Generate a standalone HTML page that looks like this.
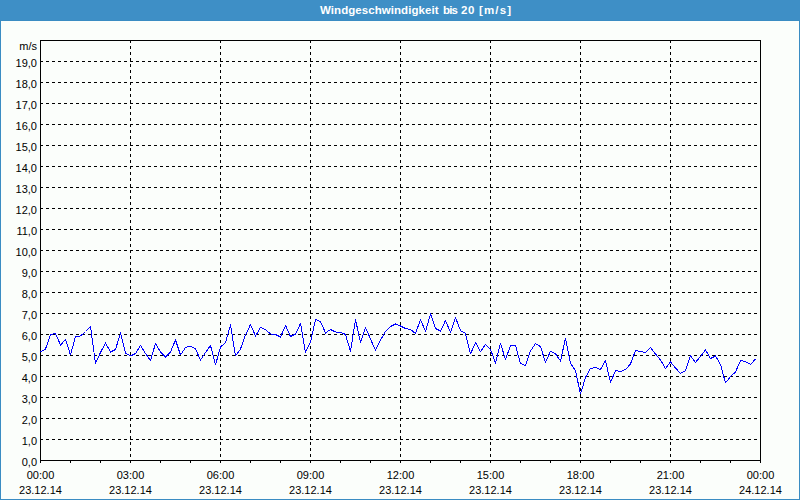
<!DOCTYPE html>
<html><head><meta charset="utf-8"><style>
html,body{margin:0;padding:0;width:800px;height:500px;overflow:hidden;background:#fbfefb;}
svg{display:block;}
text{font-family:"Liberation Sans",sans-serif;font-size:11px;fill:#000;}
.t{font-weight:bold;fill:#fff;font-size:11.5px;}
</style></head><body>
<svg width="800" height="500" viewBox="0 0 800 500">
<rect x="0" y="0" width="800" height="500" fill="#fbfefb"/>
<rect x="0" y="0" width="800" height="21" fill="#3e8fc6"/>
<g shape-rendering="crispEdges" stroke="#3a8cc3" stroke-width="1" fill="none">
<line x1="0" y1="20.5" x2="800" y2="20.5"/>
<line x1="0.5" y1="20" x2="0.5" y2="500"/>
<line x1="799.5" y1="20" x2="799.5" y2="500"/>
<line x1="0" y1="499.5" x2="800" y2="499.5"/>
</g>
<text class="t" x="320" y="14" textLength="118.5" lengthAdjust="spacing">Windgeschwindigkeit</text><text class="t" x="443" y="14" textLength="15" lengthAdjust="spacing">bis</text><text class="t" x="461" y="14" textLength="13.5" lengthAdjust="spacing">20</text><text class="t" x="479" y="14" textLength="32" lengthAdjust="spacing">[m/s]</text>
<g shape-rendering="crispEdges" stroke="#000" stroke-width="1" fill="none">

<line x1="40" y1="439.5" x2="760" y2="439.5" stroke-dasharray="3 3"/>
<line x1="40" y1="418.5" x2="760" y2="418.5" stroke-dasharray="3 3"/>
<line x1="40" y1="397.5" x2="760" y2="397.5" stroke-dasharray="3 3"/>
<line x1="40" y1="376.5" x2="760" y2="376.5" stroke-dasharray="3 3"/>
<line x1="40" y1="355.5" x2="760" y2="355.5" stroke-dasharray="3 3"/>
<line x1="40" y1="334.5" x2="760" y2="334.5" stroke-dasharray="3 3"/>
<line x1="40" y1="313.5" x2="760" y2="313.5" stroke-dasharray="3 3"/>
<line x1="40" y1="292.5" x2="760" y2="292.5" stroke-dasharray="3 3"/>
<line x1="40" y1="271.5" x2="760" y2="271.5" stroke-dasharray="3 3"/>
<line x1="40" y1="250.5" x2="760" y2="250.5" stroke-dasharray="3 3"/>
<line x1="40" y1="229.5" x2="760" y2="229.5" stroke-dasharray="3 3"/>
<line x1="40" y1="208.5" x2="760" y2="208.5" stroke-dasharray="3 3"/>
<line x1="40" y1="187.5" x2="760" y2="187.5" stroke-dasharray="3 3"/>
<line x1="40" y1="166.5" x2="760" y2="166.5" stroke-dasharray="3 3"/>
<line x1="40" y1="145.5" x2="760" y2="145.5" stroke-dasharray="3 3"/>
<line x1="40" y1="124.5" x2="760" y2="124.5" stroke-dasharray="3 3"/>
<line x1="40" y1="103.5" x2="760" y2="103.5" stroke-dasharray="3 3"/>
<line x1="40" y1="82.5" x2="760" y2="82.5" stroke-dasharray="3 3"/>
<line x1="40" y1="61.5" x2="760" y2="61.5" stroke-dasharray="3 3"/>
<line x1="130.5" y1="40" x2="130.5" y2="460" stroke-dasharray="3 3"/>
<line x1="220.5" y1="40" x2="220.5" y2="460" stroke-dasharray="3 3"/>
<line x1="310.5" y1="40" x2="310.5" y2="460" stroke-dasharray="3 3"/>
<line x1="400.5" y1="40" x2="400.5" y2="460" stroke-dasharray="3 3"/>
<line x1="490.5" y1="40" x2="490.5" y2="460" stroke-dasharray="3 3"/>
<line x1="580.5" y1="40" x2="580.5" y2="460" stroke-dasharray="3 3"/>
<line x1="670.5" y1="40" x2="670.5" y2="460" stroke-dasharray="3 3"/>
<rect x="40.5" y="40.5" width="720" height="420"/>
<line x1="40.5" y1="460" x2="40.5" y2="463"/>
<line x1="70.5" y1="460" x2="70.5" y2="463"/>
<line x1="100.5" y1="460" x2="100.5" y2="463"/>
<line x1="130.5" y1="460" x2="130.5" y2="463"/>
<line x1="160.5" y1="460" x2="160.5" y2="463"/>
<line x1="190.5" y1="460" x2="190.5" y2="463"/>
<line x1="220.5" y1="460" x2="220.5" y2="463"/>
<line x1="250.5" y1="460" x2="250.5" y2="463"/>
<line x1="280.5" y1="460" x2="280.5" y2="463"/>
<line x1="310.5" y1="460" x2="310.5" y2="463"/>
<line x1="340.5" y1="460" x2="340.5" y2="463"/>
<line x1="370.5" y1="460" x2="370.5" y2="463"/>
<line x1="400.5" y1="460" x2="400.5" y2="463"/>
<line x1="430.5" y1="460" x2="430.5" y2="463"/>
<line x1="460.5" y1="460" x2="460.5" y2="463"/>
<line x1="490.5" y1="460" x2="490.5" y2="463"/>
<line x1="520.5" y1="460" x2="520.5" y2="463"/>
<line x1="550.5" y1="460" x2="550.5" y2="463"/>
<line x1="580.5" y1="460" x2="580.5" y2="463"/>
<line x1="610.5" y1="460" x2="610.5" y2="463"/>
<line x1="640.5" y1="460" x2="640.5" y2="463"/>
<line x1="670.5" y1="460" x2="670.5" y2="463"/>
<line x1="700.5" y1="460" x2="700.5" y2="463"/>
<line x1="730.5" y1="460" x2="730.5" y2="463"/>
<line x1="760.5" y1="460" x2="760.5" y2="463"/>
</g>
<polyline points="40.5,352 45.5,349.0 50.5,334.5 55.5,333.5 60.5,345.0 65.5,339.5 70.5,355.0 75.5,336.5 80.5,336.0 85.5,331.5 90.5,326.5 95.5,363.5 100.5,352.5 105.5,343 110.5,352.0 115.5,349.5 120.5,333 125.5,353.0 130.5,356 135.5,353.5 140.5,345.5 145.5,353.5 150.5,360.5 155.5,343.5 160.5,352.0 165.5,357.0 170.5,352.0 175.5,340 180.5,355.0 185.5,347.5 190.5,346.2 195.5,349.0 200.5,360.0 205.5,352.5 210.5,345.5 215.5,365 220.5,347.0 225.5,342.5 230.5,325.0 235.5,356 240.5,349.0 245.5,335.0 250.5,324.5 255.5,336.0 260.5,327.5 265.5,329.5 270.5,334.0 275.5,334.5 280.5,337.0 285.5,325.5 290.5,336.5 295.5,334.0 300.5,323.5 305.5,352.5 310.5,342.0 315.5,319.5 320.5,321.5 325.5,333.0 330.5,329.5 335.5,332.0 340.5,332.2 345.5,334.5 350.5,351.5 355.5,319.5 360.5,342.5 365.5,327.5 370.5,339.0 375.5,350.5 380.5,340.0 385.5,331.5 390.5,326.5 395.5,324.0 400.5,326.0 405.5,328.5 410.5,329.5 415.5,333.5 420.5,319.5 425.5,331.5 430.5,314.0 435.5,328.5 440.5,331.0 445.5,320.5 450.5,332.5 455.5,317.5 460.5,330.5 465.5,333.5 470.5,354 475.5,342.5 480.5,351.5 485.5,344.5 490.5,349.5 495.5,363.0 500.5,343.5 505.5,359.5 510.5,345.5 515.5,345.5 520.5,363.5 525.5,365.5 530.5,351.0 535.5,343.5 540.5,346.7 545.5,362.3 550.5,351.2 555.5,353.8 560.5,361.0 565.5,338.2 570.5,363.0 575.5,371.0 580.5,394 585.5,377.5 590.5,368.5 595.5,367.5 600.5,369.5 605.5,360.5 610.5,382.5 615.5,370.5 620.5,371.5 625.5,369.5 630.5,364.0 635.5,350.5 640.5,351.5 645.5,352.5 650.5,347.5 655.5,354.0 660.5,360.0 665.5,368.5 670.5,362.0 675.5,368.0 680.5,373.5 685.5,370.5 690.5,356.0 695.5,362.5 700.5,356.5 705.5,350.0 710.5,358.5 715.5,356.0 720.5,364.5 725.5,383 730.5,376.5 735.5,372.0 740.5,360.5 745.5,361.5 750.5,364.5 755.5,359.0" fill="none" stroke="#0000ff" stroke-width="1" stroke-linejoin="round" shape-rendering="crispEdges"/>
<text x="37" y="50" text-anchor="end">m/s</text>
<text x="37" y="466" text-anchor="end">0,0</text>
<text x="37" y="445" text-anchor="end">1,0</text>
<text x="37" y="424" text-anchor="end">2,0</text>
<text x="37" y="403" text-anchor="end">3,0</text>
<text x="37" y="382" text-anchor="end">4,0</text>
<text x="37" y="361" text-anchor="end">5,0</text>
<text x="37" y="340" text-anchor="end">6,0</text>
<text x="37" y="319" text-anchor="end">7,0</text>
<text x="37" y="298" text-anchor="end">8,0</text>
<text x="37" y="277" text-anchor="end">9,0</text>
<text x="37" y="256" text-anchor="end">10,0</text>
<text x="37" y="235" text-anchor="end">11,0</text>
<text x="37" y="214" text-anchor="end">12,0</text>
<text x="37" y="193" text-anchor="end">13,0</text>
<text x="37" y="172" text-anchor="end">14,0</text>
<text x="37" y="151" text-anchor="end">15,0</text>
<text x="37" y="130" text-anchor="end">16,0</text>
<text x="37" y="109" text-anchor="end">17,0</text>
<text x="37" y="88" text-anchor="end">18,0</text>
<text x="37" y="67" text-anchor="end">19,0</text>
<text x="40.5" y="479" text-anchor="middle">00:00</text>
<text x="40.5" y="494" text-anchor="middle">23.12.14</text>
<text x="130.5" y="479" text-anchor="middle">03:00</text>
<text x="130.5" y="494" text-anchor="middle">23.12.14</text>
<text x="220.5" y="479" text-anchor="middle">06:00</text>
<text x="220.5" y="494" text-anchor="middle">23.12.14</text>
<text x="310.5" y="479" text-anchor="middle">09:00</text>
<text x="310.5" y="494" text-anchor="middle">23.12.14</text>
<text x="400.5" y="479" text-anchor="middle">12:00</text>
<text x="400.5" y="494" text-anchor="middle">23.12.14</text>
<text x="490.5" y="479" text-anchor="middle">15:00</text>
<text x="490.5" y="494" text-anchor="middle">23.12.14</text>
<text x="580.5" y="479" text-anchor="middle">18:00</text>
<text x="580.5" y="494" text-anchor="middle">23.12.14</text>
<text x="670.5" y="479" text-anchor="middle">21:00</text>
<text x="670.5" y="494" text-anchor="middle">23.12.14</text>
<text x="760.5" y="479" text-anchor="middle">00:00</text>
<text x="760.5" y="494" text-anchor="middle">24.12.14</text>
</svg></body></html>
